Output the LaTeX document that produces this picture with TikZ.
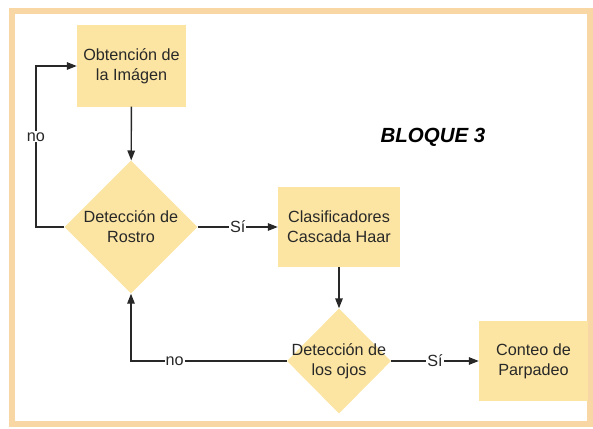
\documentclass[tikz,border=0pt]{standalone}
\usepackage{fontspec}
\setmainfont{Liberation Sans}
\usepackage{tikz}
\usetikzlibrary{
    arrows.meta,
    positioning,
    shapes.geometric
}
\definecolor{boxfill}{RGB}{252,229,162}
\definecolor{framec}{RGB}{248,215,165}
\definecolor{inkc}{RGB}{40,40,40}

\begin{document}
\begin{tikzpicture}[x=1pt, y=-1pt,
    box/.style={fill=boxfill, inner sep=0pt, minimum width=109pt,
                minimum height=81pt, align=center, text=inkc,
                font=\fontsize{16.2}{20}\selectfont},
    dmd/.style={diamond, fill=boxfill, inner sep=0pt, aspect=1},
    dtxt/.style={align=center, text=inkc, inner sep=0pt,
                 font=\fontsize{16.2}{20}\selectfont},
    lbl/.style={fill=white, inner sep=1pt, text=inkc,
                font=\fontsize{16.2}{20}\selectfont},
    arr/.style={-{Triangle[length=10pt, width=7.5pt]}, line width=1.4pt, inkc}
  ]
    \useasboundingbox (0,0) rectangle (593,428);
    \draw[framec, line width=6pt] (11.5,11) rectangle (590,424);

    \node[box](img) at (131.5,66) {Obtención de\\la Imágen};
    \node[dmd, minimum width=133pt, minimum height=133pt,
          label={[dtxt]center:Detección de\\Rostro}](rostro) at (131,227) {};
    \node[box, minimum width=122pt, minimum height=80pt](clas) at (339,227)
          {Clasificadores\\Cascada Haar};
    \node[dmd, minimum width=104pt, minimum height=105pt,
          label={[dtxt]center:Detección de\\los ojos}](ojos) at (339,361) {};
    \node[box, minimum height=80pt](conteo) at (533.5,361) {Conteo de\\Parpadeo};
    \node[text=black, font=\fontsize{20.5}{24}\selectfont\bfseries\itshape]
          (bloque) at (433,137) {BLOQUE 3};

    \coordinate (vuelta) at (36,227);
    \draw[arr](img)--(rostro);
    \draw[arr](rostro.west)--(vuelta) |- node[lbl, pos=0.28]{no} (img.west);
    \draw[arr](rostro.east)-- node[lbl]{Sí} (clas.west);
    \draw[arr](clas)--(ojos);
    \draw[arr](ojos.west) -| node[lbl, pos=0.36]{no} (rostro.south);
    \draw[arr](ojos.east)-- node[lbl]{Sí} (conteo.west);
  \end{tikzpicture}
\end{document}
